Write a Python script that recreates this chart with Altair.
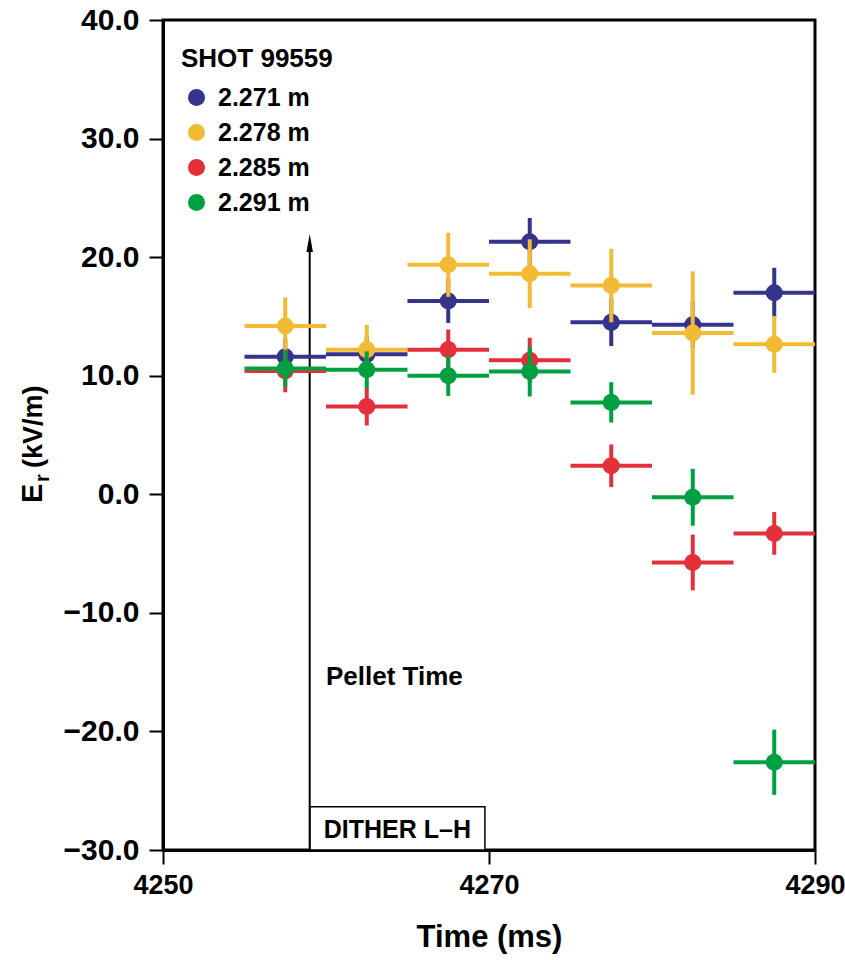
import altair as alt
import pandas as pd

FONT = "Liberation Sans, Arial"

times = [4257.5, 4262.5, 4267.5, 4272.5, 4277.5, 4282.5, 4287.5]
bin_width = 5.0
series_names = ["2.271 m", "2.278 m", "2.285 m", "2.291 m"]
series_colors = ["#35338b", "#f2bb33", "#e4303a", "#00a040"]

er_2271 = [11.6, 11.8, 16.3, 21.3, 14.5, 14.3, 17.0]
err_2271 = [1.5, 1.5, 1.85, 2.0, 2.0, 1.95, 2.1]
er_2278 = [14.2, 12.2, 19.35, 18.6, 17.6, 13.6, 12.65]
err_2278 = [2.4, 2.1, 2.7, 2.9, 3.1, 5.2, 2.4]
er_2285 = [10.4, 7.4, 12.2, 11.3, 2.4, -5.75, -3.3]
err_2285 = [1.8, 1.6, 1.7, 1.9, 1.8, 2.35, 1.8]
er_2291 = [10.6, 10.5, 10.0, 10.35, 7.75, -0.25, -22.6]
err_2291 = [1.55, 1.55, 1.7, 2.1, 1.7, 2.4, 2.75]

x_ticks = [4250, 4270, 4290]
y_ticks = [-30, -20, -10, 0, 10, 20, 30, 40]

pellet_time = 4259.0
arrow_top = 21.2
dither_end = 4269.75
dither_top = -26.35

values = [er_2271, er_2278, er_2285, er_2291]
errors = [err_2271, err_2278, err_2285, err_2291]

rows = []
for name, vals, errs in zip(series_names, values, errors):
    for t, v, e in zip(times, vals, errs):
        rows.append({"series": name, "t": t, "t_lo": t - bin_width / 2, "t_hi": t + bin_width / 2,
                     "v": v, "v_lo": v - e, "v_hi": v + e})
df = pd.DataFrame(rows)

x_scale = alt.Scale(domain=[4250, 4290], nice=False, zero=False)
y_scale = alt.Scale(domain=[-30, 40], nice=False, zero=False)

x_axis = alt.Axis(values=x_ticks, format="d", title="Time (ms)", grid=False, labelFlush=False,
                  labelFont=FONT, labelFontSize=27, labelFontWeight="bold", labelColor="black",
                  labelPadding=8, tickSize=14, tickWidth=2, tickColor="black",
                  domainColor="black", domainWidth=3,
                  titleFont=FONT, titleFontSize=31, titleFontWeight="bold", titleColor="black",
                  titlePadding=24)
y_axis = alt.Axis(values=y_ticks, format=".1f", title=None, grid=False, labelFlush=False,
                  labelFont=FONT, labelFontSize=30, labelFontWeight="bold", labelColor="black",
                  labelPadding=10, tickSize=14, tickWidth=2, tickColor="black",
                  domainColor="black", domainWidth=3)


def X(field):
    return alt.X(field, type="quantitative", scale=x_scale, axis=x_axis)


def Y(field):
    return alt.Y(field, type="quantitative", scale=y_scale, axis=y_axis)


legend = alt.Legend(title="SHOT 99559", orient="none", legendX=18, legendY=26,
                    titleFont=FONT, titleFontSize=26, titleFontWeight="bold", titleColor="black",
                    titleLimit=400, labelLimit=400,
                    labelFont=FONT, labelFontSize=25, labelFontWeight="bold", labelColor="black",
                    symbolType="circle", symbolSize=290, symbolStrokeWidth=0, symbolOffset=3,
                    labelOffset=9, rowPadding=9, titlePadding=13, padding=0)

base = alt.Chart(df)
layers = []
for name, col in zip(series_names, series_colors):
    sub = base.transform_filter(alt.datum.series == name)
    h = sub.mark_rule(strokeWidth=4).encode(x=X("t_lo"), x2="t_hi", y=Y("v"), color=alt.value(col))
    v = sub.mark_rule(strokeWidth=4).encode(x=X("t"), y=Y("v_lo"), y2="v_hi", color=alt.value(col))
    p = sub.mark_circle(size=290, opacity=1).encode(
        x=X("t"), y=Y("v"),
        color=alt.Color("series:N", scale=alt.Scale(domain=series_names, range=series_colors), legend=legend))
    layers += [h, v, p]

ann = pd.DataFrame({"t": [pellet_time], "y0": [-30.0], "y1": [arrow_top], "t2": [dither_end], "yb": [dither_top]})
ann_base = alt.Chart(ann)
arrow_line = ann_base.mark_rule(color="black", strokeWidth=2).encode(x=X("t"), y=Y("y0"), y2="y1")
arrow_head = ann_base.mark_point(shape="M0,-1L0.36,1L-0.36,1Z", size=324, filled=True, color="black",
                                 opacity=1).encode(x=X("t"), y=Y("y1"))
dither_box = ann_base.mark_rect(fill="white", stroke="black", strokeWidth=1.5).encode(
    x=X("t"), x2="t2", y=Y("y0"), y2="yb")

labels = pd.DataFrame({"t": [4260.0, (pellet_time + dither_end) / 2], "y": [-16.1, -29.0],
                       "label": ["Pellet Time", "DITHER L\u2013H"]})
pellet_txt = alt.Chart(labels.iloc[[0]]).mark_text(font=FONT, fontSize=26, fontWeight="bold", align="left",
                                                   baseline="alphabetic", color="black").encode(
    x=X("t"), y=Y("y"), text="label:N")
dither_txt = alt.Chart(labels.iloc[[1]]).mark_text(font=FONT, fontSize=25, fontWeight="bold", align="center",
                                                   baseline="alphabetic", color="black").encode(
    x=X("t"), y=Y("y"), text="label:N")

title_df = pd.DataFrame({"s": ["E", "r", "(kV/m)"]})
t_e = alt.Chart(title_df.iloc[[0]]).mark_text(font=FONT, fontSize=29, fontWeight="bold", angle=270,
                                              align="left", baseline="alphabetic", color="black").encode(
    x=alt.value(-121), y=alt.value(483), text="s:N")
t_r = alt.Chart(title_df.iloc[[1]]).mark_text(font=FONT, fontSize=20, fontWeight="bold", angle=270,
                                              align="left", baseline="alphabetic", color="black").encode(
    x=alt.value(-114), y=alt.value(462), text="s:N")
t_u = alt.Chart(title_df.iloc[[2]]).mark_text(font=FONT, fontSize=27, fontWeight="bold", angle=270,
                                              align="left", baseline="alphabetic", color="black").encode(
    x=alt.value(-121), y=alt.value(448), text="s:N")

chart = alt.layer(dither_box, arrow_line, arrow_head, *layers, pellet_txt, dither_txt, t_e, t_r, t_u).properties(
    width=652, height=830,
    padding={"left": 163, "top": 20, "right": 30, "bottom": 110},
    autosize=alt.AutoSizeParams(type="none"),
    background="white",
).configure_view(stroke="black", strokeWidth=3)

chart.save("out.html", embed_options={"renderer": "svg", "actions": False})
